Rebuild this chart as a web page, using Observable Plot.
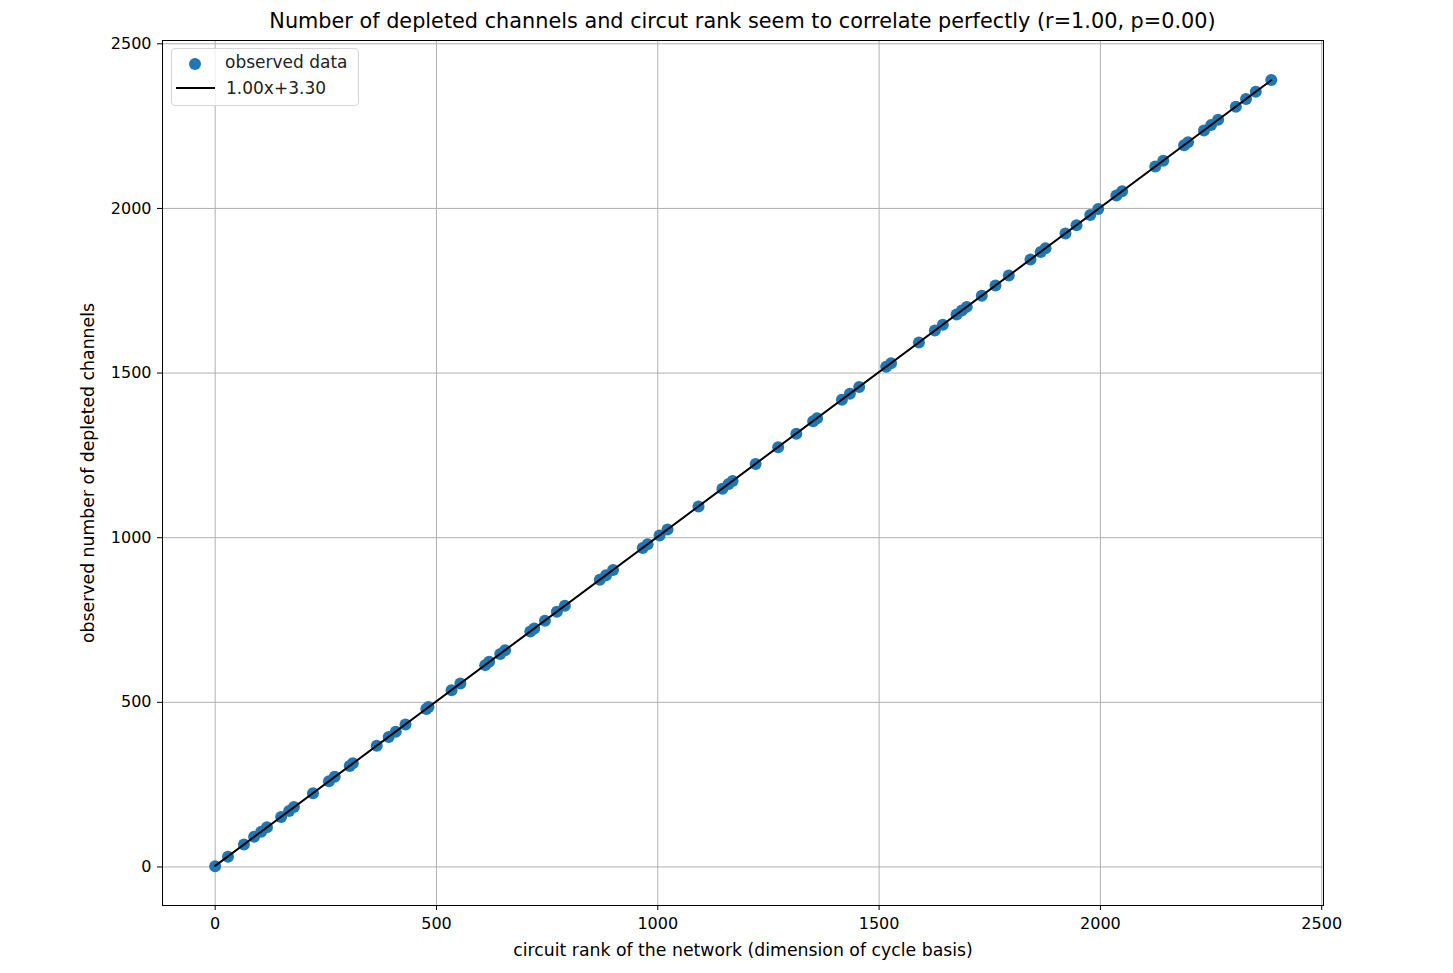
<!DOCTYPE html>
<html>
<head>
<meta charset="utf-8">
<script src="https://cdn.jsdelivr.net/npm/d3@7"></script>
<script src="https://cdn.jsdelivr.net/npm/@observablehq/plot@0.6"></script>
<style>
  body { margin: 0; background: #fff; font-family: "DejaVu Sans", sans-serif; }
  #wrap { position: relative; width: 1453px; height: 973px; }
  #title { position: absolute; top: 9px; left: 162px; width: 1161px; text-align: center; font-size: 20.8px; color: #000; }
  #legend { position: absolute; left: 171px; top: 48px; width: 186px; height: 56px; border: 1px solid #d6d6d6; border-radius: 4px; background: rgba(255,255,255,0.8); font-size: 17px; color: #222; }
  svg { font-family: "DejaVu Sans", sans-serif; }
</style>
</head>
<body>
<div id="wrap">
  <div id="title">Number of depleted channels and circut rank seem to correlate perfectly (r=1.00, p=0.00)</div>
  <div id="chart"></div>
  <div id="legend">
    <svg width="44" height="56" style="position:absolute;left:2px;top:0">
      <circle cx="21" cy="15" r="6" fill="#1f77b4"></circle>
      <line x1="2" x2="41" y1="39" y2="39" stroke="#000" stroke-width="2"></line>
    </svg>
    <div style="position:absolute;left:53px;top:3px">observed data</div>
    <div style="position:absolute;left:54px;top:29px">1.00x+3.30</div>
  </div>
</div>
<script>
const circuitRank = [0, 29, 65, 88, 104, 117, 149, 167, 178, 221, 257, 270, 304, 311, 365, 392, 408, 430, 477, 482, 534, 554, 610, 619, 644, 655, 712, 721, 745, 772, 790, 869, 883, 899, 966, 977, 1004, 1022, 1092, 1146, 1160, 1169, 1221, 1272, 1313, 1351, 1360, 1416, 1434, 1455, 1516, 1527, 1590, 1626, 1644, 1675, 1687, 1698, 1732, 1763, 1793, 1842, 1865, 1876, 1921, 1946, 1977, 1995, 2036, 2049, 2124, 2142, 2189, 2198, 2234, 2250, 2266, 2306, 2329, 2351, 2386];
const depletedChannels = [2, 31, 68, 92, 107, 121, 152, 170, 182, 224, 260, 274, 307, 315, 368, 395, 411, 433, 480, 486, 537, 557, 613, 623, 647, 658, 715, 724, 748, 775, 793, 872, 886, 902, 969, 980, 1007, 1025, 1095, 1149, 1163, 1172, 1224, 1275, 1316, 1354, 1363, 1419, 1437, 1458, 1519, 1530, 1593, 1629, 1647, 1678, 1690, 1701, 1735, 1766, 1796, 1845, 1868, 1879, 1924, 1949, 1980, 1998, 2039, 2052, 2127, 2145, 2192, 2201, 2237, 2253, 2269, 2309, 2332, 2354, 2390];
const fitSlope = 1.00;
const fitIntercept = 3.30;
const xTicks = [0, 500, 1000, 1500, 2000, 2500];
const yTicks = [0, 500, 1000, 1500, 2000, 2500];
const xLabel = "circuit rank of the network (dimension of cycle basis)";
const yLabel = "observed number of depleted channels";

const points = circuitRank.map((x, i) => ({x, y: depletedChannels[i]}));
const xMin = d3.min(circuitRank), xMax = d3.max(circuitRank);
const fit = [xMin, xMax].map(x => ({x, y: fitSlope * x + fitIntercept}));

const chart = Plot.plot({
  width: 1453,
  height: 973,
  marginLeft: 162,
  marginRight: 130,
  marginTop: 40,
  marginBottom: 68,
  style: {fontSize: "16px", fontFamily: "DejaVu Sans, sans-serif", color: "#000", background: "#fff", overflow: "visible"},
  x: {domain: [-119, 2504], label: null},
  y: {domain: [-117, 2510], label: null},
  marks: [
    Plot.gridX(xTicks, {stroke: "#b0b0b0", strokeOpacity: 1, strokeWidth: 1}),
    Plot.gridY(yTicks, {stroke: "#b0b0b0", strokeOpacity: 1, strokeWidth: 1}),
    Plot.dot(points, {x: "x", y: "y", r: 6, fill: "#1f77b4", stroke: "none"}),
    Plot.line(fit, {x: "x", y: "y", stroke: "#000", strokeWidth: 2}),
    Plot.frame({stroke: "#000", strokeWidth: 1}),
    Plot.axisX(xTicks, {tickSize: 5, tickPadding: 7, fontSize: 16, tickFormat: d => String(d), label: null}),
    Plot.axisY(yTicks, {tickSize: 5, tickPadding: 6, fontSize: 16, tickFormat: d => String(d), label: null}),
    Plot.text([xLabel], {text: d => d, frameAnchor: "bottom", dy: 50, fontSize: 17.3, fill: "#000"}),
    Plot.text([yLabel], {text: d => d, frameAnchor: "left", textAnchor: "middle", dx: -74, rotate: -90, fontSize: 17.3, fill: "#000"})
  ]
});
document.getElementById("chart").appendChild(chart);
</script>
</body>
</html>
